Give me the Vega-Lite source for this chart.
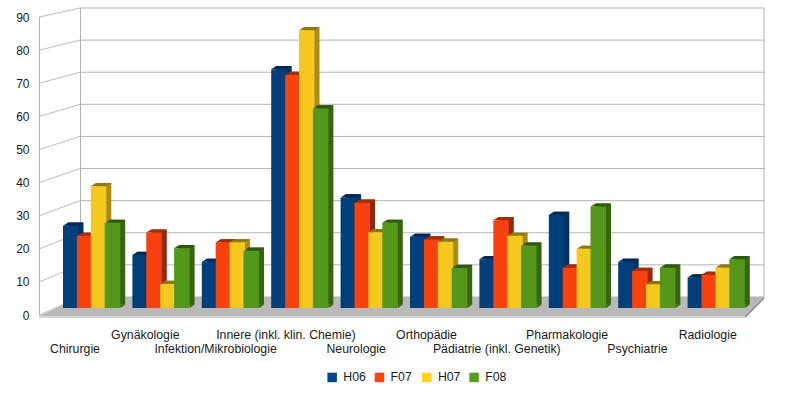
{"$schema":"https://vega.github.io/schema/vega-lite/v6.json","width":725,"height":308,"padding":{"left":39,"top":8,"right":36,"bottom":84},"autosize":{"type":"none"},"background":"#ffffff","config":{"view":{"stroke":null},"font":"Liberation Sans"},
"datasets":{
"bars":[
{"dept":"Chirurgie","series":"H06","value":25.3},{"dept":"Chirurgie","series":"F07","value":22.2},{"dept":"Chirurgie","series":"H07","value":37.5},{"dept":"Chirurgie","series":"F08","value":26.2},
{"dept":"Gynäkologie","series":"H06","value":16.3},{"dept":"Gynäkologie","series":"F07","value":23.2},{"dept":"Gynäkologie","series":"H07","value":7.4},{"dept":"Gynäkologie","series":"F08","value":18.4},
{"dept":"Infektion/Mikrobiologie","series":"H06","value":14.2},{"dept":"Infektion/Mikrobiologie","series":"F07","value":20.2},{"dept":"Infektion/Mikrobiologie","series":"H07","value":20.2},{"dept":"Infektion/Mikrobiologie","series":"F08","value":17.6},
{"dept":"Innere (inkl. klin. Chemie)","series":"H06","value":73.5},{"dept":"Innere (inkl. klin. Chemie)","series":"F07","value":71.7},{"dept":"Innere (inkl. klin. Chemie)","series":"H07","value":85.5},{"dept":"Innere (inkl. klin. Chemie)","series":"F08","value":61.4},
{"dept":"Neurologie","series":"H06","value":34},{"dept":"Neurologie","series":"F07","value":32.4},{"dept":"Neurologie","series":"H07","value":23.3},{"dept":"Neurologie","series":"F08","value":26.2},
{"dept":"Orthopädie","series":"H06","value":21.9},{"dept":"Orthopädie","series":"F07","value":21.1},{"dept":"Orthopädie","series":"H07","value":20.4},{"dept":"Orthopädie","series":"F08","value":12.3},
{"dept":"Pädiatrie (inkl. Genetik)","series":"H06","value":15},{"dept":"Pädiatrie (inkl. Genetik)","series":"F07","value":27},{"dept":"Pädiatrie (inkl. Genetik)","series":"H07","value":22.2},{"dept":"Pädiatrie (inkl. Genetik)","series":"F08","value":19.2},
{"dept":"Pharmakologie","series":"H06","value":28.6},{"dept":"Pharmakologie","series":"F07","value":12.4},{"dept":"Pharmakologie","series":"H07","value":18.2},{"dept":"Pharmakologie","series":"F08","value":31.2},
{"dept":"Psychiatrie","series":"H06","value":14.2},{"dept":"Psychiatrie","series":"F07","value":11.4},{"dept":"Psychiatrie","series":"H07","value":7.3},{"dept":"Psychiatrie","series":"F08","value":12.4},
{"dept":"Radiologie","series":"H06","value":9.4},{"dept":"Radiologie","series":"F07","value":10.2},{"dept":"Radiologie","series":"H07","value":12.4},{"dept":"Radiologie","series":"F08","value":15}
],
"ticks":[{"tick":0,"wall":5.44},{"tick":10,"wall":15.14},{"tick":20,"wall":24.83},{"tick":30,"wall":34.53},{"tick":40,"wall":44.23},{"tick":50,"wall":53.93},{"tick":60,"wall":63.63},{"tick":70,"wall":73.32},{"tick":80,"wall":83.02},{"tick":90,"wall":92.72}],
"depts":[{"dept":"Chirurgie"},{"dept":"Gynäkologie"},{"dept":"Infektion/Mikrobiologie"},{"dept":"Innere (inkl. klin. Chemie)"},{"dept":"Neurologie"},{"dept":"Orthopädie"},{"dept":"Pädiatrie (inkl. Genetik)"},{"dept":"Pharmakologie"},{"dept":"Psychiatrie"},{"dept":"Radiologie"}],
"legendRows":[{"series":"H06"},{"series":"F07"},{"series":"H07"},{"series":"F08"}]
},
"resolve":{"scale":{"x":"independent","y":"independent","color":"independent"}},
"layer":[
{"data":{"name":"ticks"},
 "encoding":{"y":{"field":"tick","type":"quantitative","scale":{"domain":[0,90],"range":[307,9],"nice":false,"zero":false},"axis":{"values":[0,10,20,30,40,50,60,70,80,90],"title":null,"domain":false,"ticks":false,"grid":false,"labelPadding":10,"labelFontSize":12,"labelColor":"#1a1a1a","labelFont":"Liberation Sans"}}},
 "layer":[
  {"mark":{"type":"rule","stroke":"#b3b3b3","strokeWidth":1},"encoding":{"x":{"value":41},"x2":{"value":725},"y":{"field":"wall","type":"quantitative"},"y2":{"field":"wall"}}},
  {"mark":{"type":"rule","stroke":"#bdbdbd","strokeWidth":1},"encoding":{"x":{"value":0.5},"x2":{"value":41},"y2":{"field":"wall"}}},
  {"data":{"values":[{"tick":90}]},"mark":{"type":"rule","stroke":"#b3b3b3","strokeWidth":1},"encoding":{"x":{"value":0.5},"y":{"datum":90},"y2":{"datum":0}}},
  {"data":{"values":[{"tick":90}]},"mark":{"type":"rule","stroke":"#b3b3b3","strokeWidth":1},"encoding":{"x":{"value":41.5},"y":{"datum":92.72},"y2":{"datum":5.44}}},
  {"data":{"values":[{"tick":90}]},"mark":{"type":"rule","stroke":"#b3b3b3","strokeWidth":1},"encoding":{"x":{"value":725},"y":{"datum":92.72},"y2":{"datum":5.44}}},
  {"data":{"values":[{"tick":0}]},"mark":{"type":"point","filled":true,"opacity":1,"size":4,"color":"#b9b9b9","shape":"M0,1 L41,-18 L725,-18 L706,1 Z"},"encoding":{"x":{"value":0},"y":{"datum":0}}},
  {"data":{"values":[{"tick":0}]},"mark":{"type":"point","filled":true,"opacity":1,"size":4,"color":"#d6d6d6","shape":"M0,1 L706,1 L706,3 L0,3 Z"},"encoding":{"x":{"value":0},"y":{"datum":0}}},
  {"data":{"values":[{"tick":0}]},"mark":{"type":"point","filled":true,"opacity":1,"size":4,"color":"#7d7d7d","shape":"M706,1 L725,-18 L725,-16 L706,3 Z"},"encoding":{"x":{"value":0},"y":{"datum":0}}}
 ]},
{"data":{"name":"depts"},"mark":{"type":"rule","opacity":0},
 "encoding":{"x":{"field":"dept","type":"nominal","sort":null,"scale":{"range":[0.85,703.85],"paddingInner":0,"paddingOuter":0},"axis":{"orient":"bottom","values":["Gynäkologie","Innere (inkl. klin. Chemie)","Orthopädie","Pharmakologie","Radiologie"],"title":null,"domain":false,"ticks":false,"grid":false,"labelAngle":0,"labelPadding":12,"labelFontSize":12.3,"labelColor":"#1a1a1a","labelFont":"Liberation Sans","labelOverlap":false,"labelBound":false,"labelFlush":false,"labelLimit":0}}}},
{"data":{"name":"depts"},"mark":{"type":"rule","opacity":0},
 "encoding":{"x":{"field":"dept","type":"nominal","sort":null,"scale":{"range":[0.85,703.85],"paddingInner":0,"paddingOuter":0},"axis":{"orient":"bottom","values":["Chirurgie","Infektion/Mikrobiologie","Neurologie","Pädiatrie (inkl. Genetik)","Psychiatrie"],"title":null,"domain":false,"ticks":false,"grid":false,"labelAngle":0,"labelPadding":26.5,"labelFontSize":12.3,"labelColor":"#1a1a1a","labelFont":"Liberation Sans","labelOverlap":false,"labelBound":false,"labelFlush":false,"labelLimit":0}}}},
{"data":{"name":"legendRows"},"mark":{"type":"point","opacity":0,"filled":true},
 "encoding":{"color":{"field":"series","type":"nominal","scale":{"domain":["H06","F07","H07","F08"],"range":["#004586","#ff420e","#ffd320","#579d1c"]},
    "legend":{"orient":"none","legendX":287,"legendY":363,"direction":"horizontal","columns":4,"title":null,"symbolType":"square","symbolSize":90,"symbolOpacity":1,"symbolStrokeWidth":0,"labelFontSize":12.3,"labelColor":"#1a1a1a","labelFont":"Liberation Sans","labelOffset":5,"columnPadding":7.3,"gridAlign":"all"}}}},
{"data":{"name":"bars"},"mark":{"type":"bar","width":15.5,"cornerRadius":0},
 "encoding":{
  "x":{"field":"dept","type":"nominal","sort":null,"axis":null,"scale":{"range":[22,716],"paddingInner":0,"paddingOuter":0}},
  "xOffset":{"field":"series","type":"nominal","sort":["H06","F07","H07","F08"],"scale":{"domain":["H06","F07","H07","F08"],"range":[7.8,63.4],"paddingInner":0,"paddingOuter":0}},
  "y":{"field":"value","type":"quantitative","axis":null,"scale":{"domain":[0,90],"range":[296.8,4.3],"nice":false}},
  "color":{"field":"series","type":"nominal","legend":null,"scale":{"domain":["H06","F07","H07","F08"],"range":["#003468","#8f2a0c","#a88c17","#37650f"]}}}},
{"data":{"name":"bars"},
 "encoding":{
  "x":{"field":"dept","type":"nominal","sort":null,"axis":null,"scale":{"range":[17,711],"paddingInner":0,"paddingOuter":0}},
  "xOffset":{"field":"series","type":"nominal","sort":["H06","F07","H07","F08"],"scale":{"domain":["H06","F07","H07","F08"],"range":[7.8,63.4],"paddingInner":0,"paddingOuter":0}},
  "y":{"field":"value","type":"quantitative","axis":null,"scale":{"domain":[0,90],"range":[300,7.5],"nice":false}}
 },
 "resolve":{"scale":{"color":"independent"}},
 "layer":[
  {"mark":{"type":"point","filled":true,"opacity":1,"size":4,"shape":"M7.75,0 L12.75,-3.2 L7.75,-3.2 Z"},
   "encoding":{"y":{"datum":0},"color":{"field":"series","type":"nominal","legend":null,"scale":{"domain":["H06","F07","H07","F08"],"range":["#003468","#8f2a0c","#a88c17","#37650f"]}}}},
  {"mark":{"type":"point","filled":true,"opacity":1,"size":4,"shape":"M-7.75,0 L7.75,0 L12.75,-3.2 L-2.75,-3.2 Z"},
   "encoding":{"color":{"field":"series","type":"nominal","legend":null,"scale":{"domain":["H06","F07","H07","F08"],"range":["#002a55","#a52e0a","#8f7612","#2e5a0c"]}}}},
  {"mark":{"type":"bar","width":15.5,"cornerRadius":0},
   "encoding":{"color":{"field":"series","type":"nominal","legend":null,"scale":{"domain":["H06","F07","H07","F08"],"range":["#003f7a","#f7410e","#f4c81e","#55971b"]}}}}
 ]}
]}
